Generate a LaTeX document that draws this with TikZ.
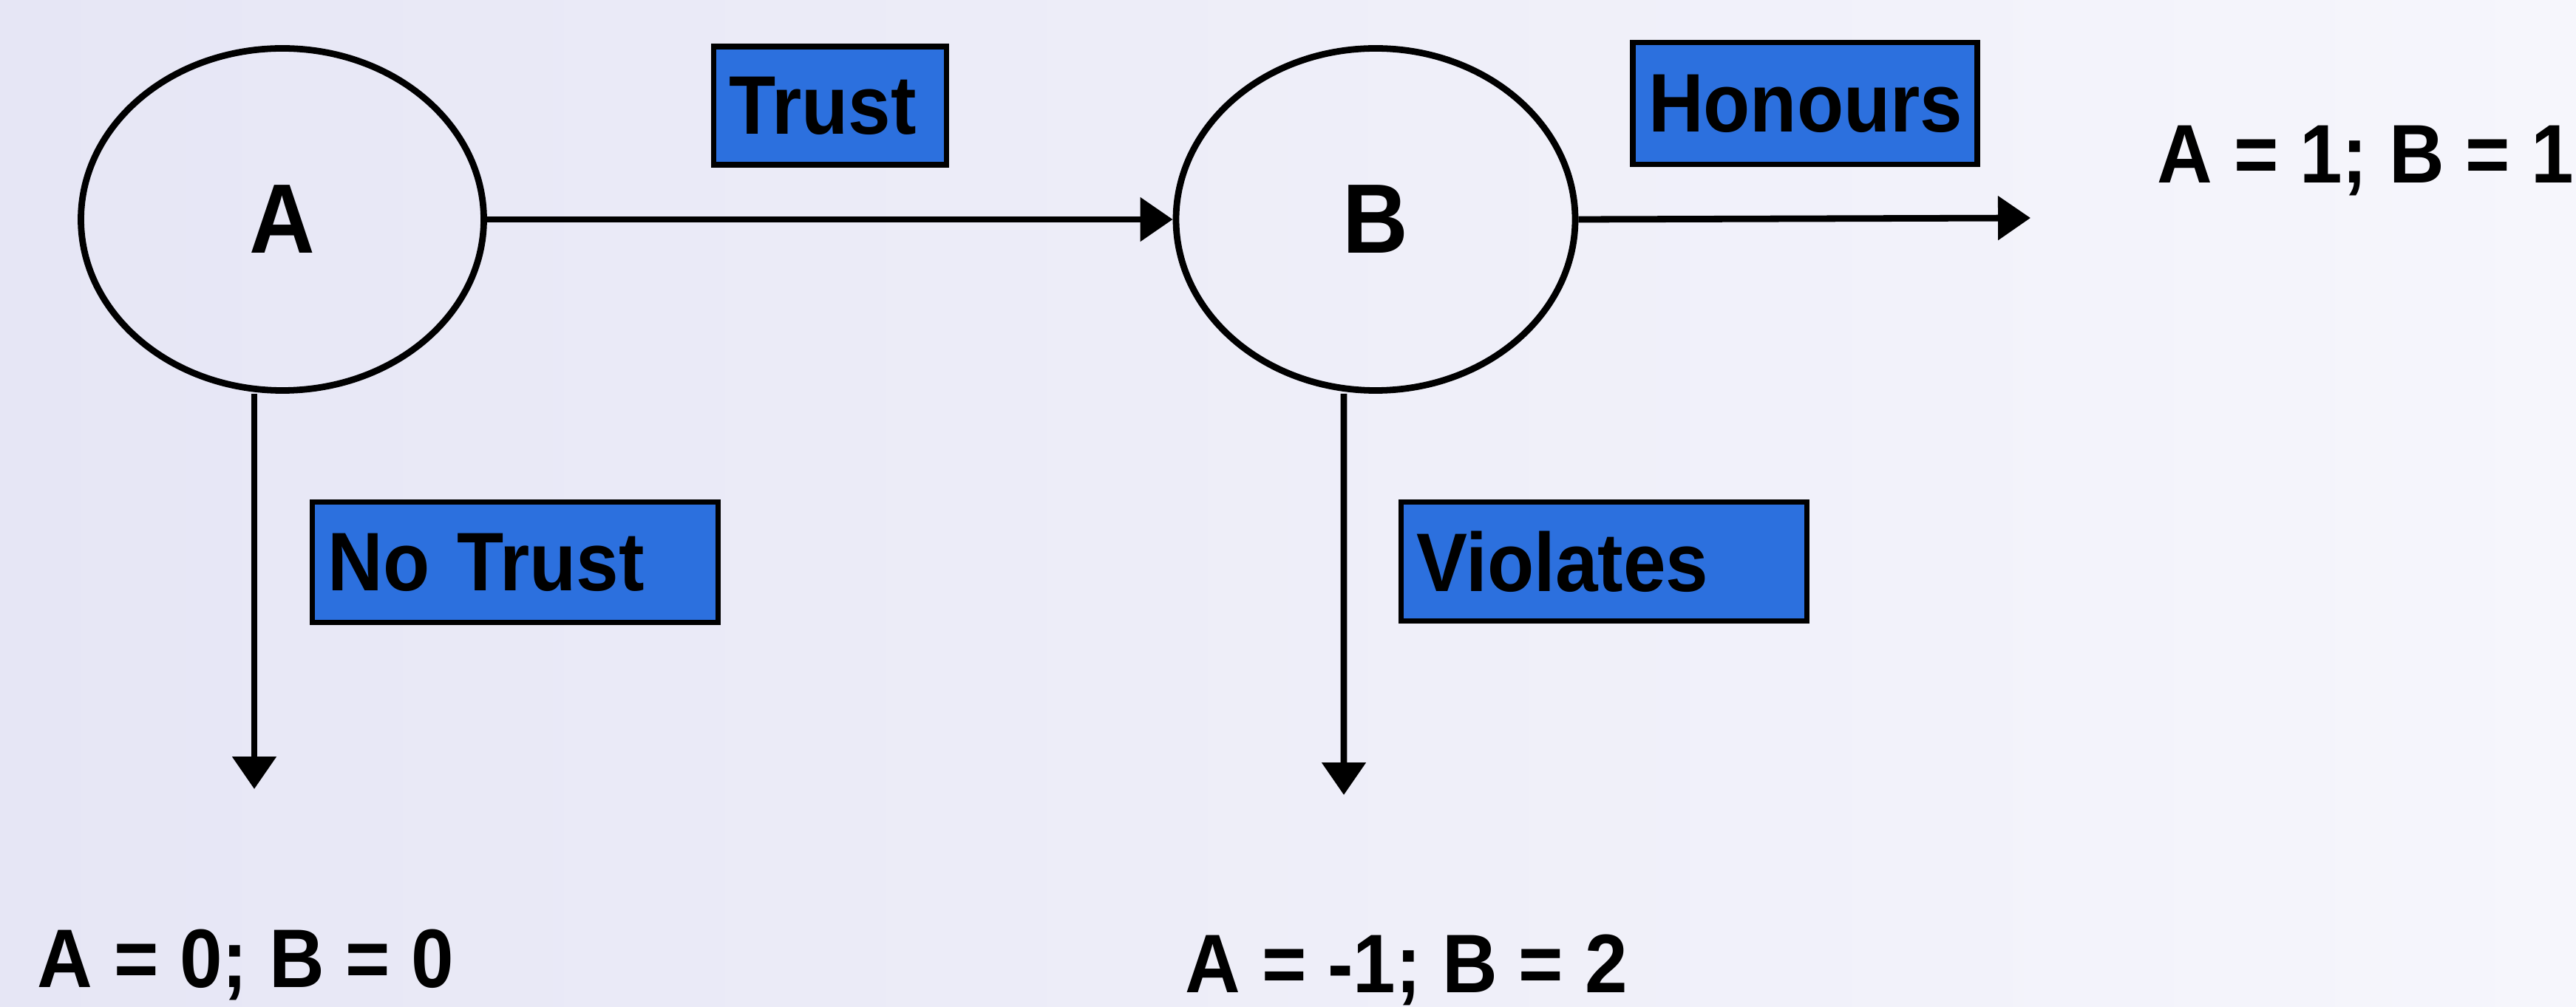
\documentclass[tikz,border=0pt]{standalone}
\usepackage{fontspec}
\setmainfont{Liberation Sans}[FakeStretch=0.92]
\usetikzlibrary{arrows.meta,shapes.geometric}
\definecolor{bgleft}{RGB}{230,230,245}
\definecolor{bgright}{RGB}{246,246,252}
\definecolor{boxblue}{RGB}{44,112,222}
\tikzset{
  player/.style={ellipse, draw=black, line width=2.5pt, inner sep=0pt, font=\bfseries\fontsize{38}{44}\selectfont},
  movebox/.style={rectangle, draw=black, fill=boxblue, line width=2.2pt, inner xsep=0.21cm, inner ysep=0pt, align=left, font=\bfseries\fontsize{32}{38}\selectfont},
  edge/.style={line width=2.5pt, -{Triangle[length=0.44cm,width=0.58cm]}},
  payoff/.style={anchor=base west, inner sep=0pt, font=\bfseries\fontsize{32}{38}\selectfont}
}
\begin{document}
\begin{tikzpicture}
\useasboundingbox (0,0) rectangle (34.85,13.62);
\shade[left color=bgleft, right color=bgright] (0,0) rectangle (34.85,13.62);

\node[player, minimum width=5.45cm, minimum height=4.63cm] (A) at (3.82,10.65) {A};
\node[player, minimum width=5.40cm, minimum height=4.63cm] (B) at (18.61,10.65) {B};

\node[movebox, minimum width=3.15cm, minimum height=1.60cm, text width=2.73cm] (trust) at (11.23,12.19) {Trust};
\node[movebox, minimum width=4.66cm, minimum height=1.65cm, text width=4.24cm] (hon) at (24.42,12.22) {Honours};
\node[movebox, minimum width=5.49cm, minimum height=1.63cm, text width=5.07cm] (notrust) at (6.97,6.01) {No Trust};
\node[movebox, minimum width=5.49cm, minimum height=1.61cm, text width=5.07cm] (viol) at (21.70,6.02) {Violates};

\coordinate (honend) at (27.47,10.67);
\coordinate (Aend) at (3.44,2.94);
\coordinate (Bend) at (18.18,2.86);

\draw[edge] (A.east) -- (B.west);
\draw[edge] (B.east) -- (honend);
\draw[edge] ([xshift=-0.38cm]A.south) -- (Aend);
\draw[edge] ([xshift=-0.43cm]B.south) -- (Bend);

\node[payoff] (p1) at (29.18,11.14) {A = 1; B = 1};
\node[payoff] (p2) at (0.50,0.26) {A = 0; B = 0};
\node[payoff] (p3) at (16.03,0.19) {A = -1; B = 2};
\end{tikzpicture}
\end{document}
